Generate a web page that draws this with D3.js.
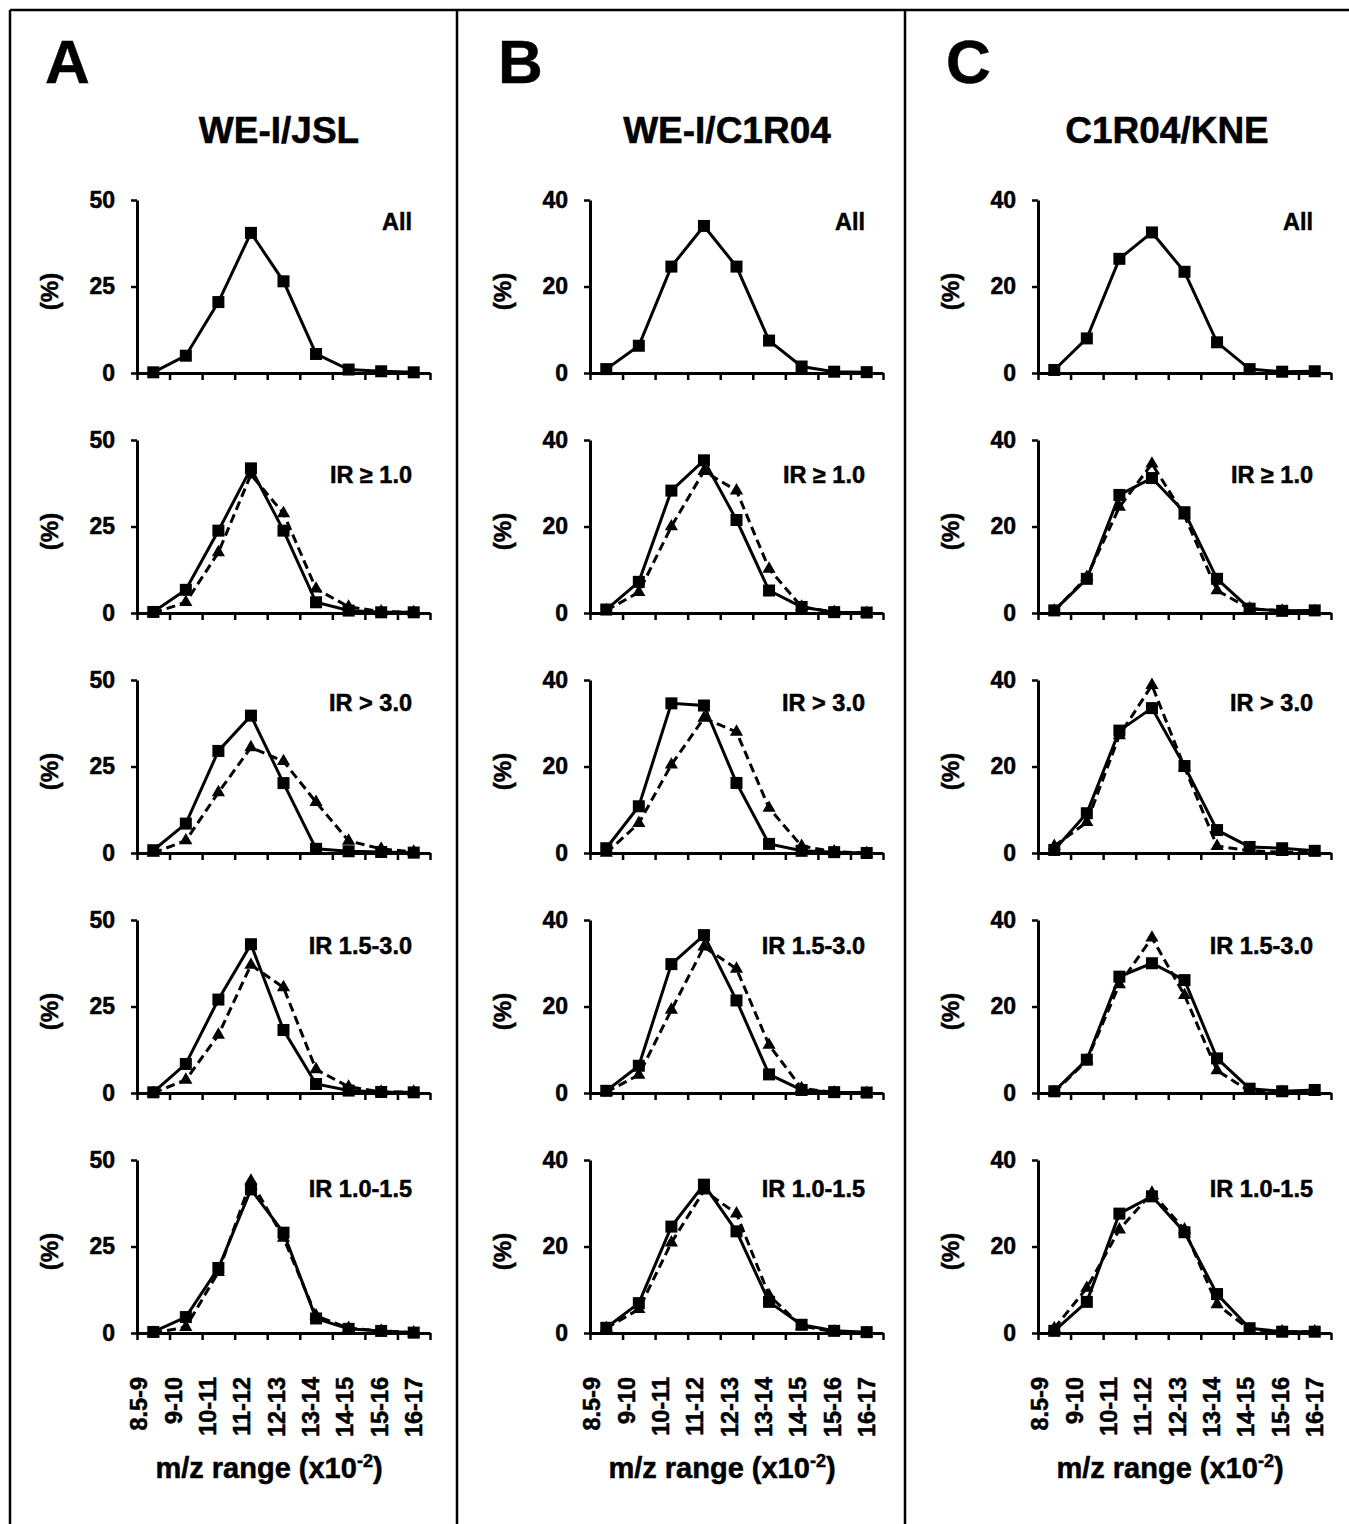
<!DOCTYPE html>
<html>
<head>
<meta charset="utf-8">
<script src="https://cdn.jsdelivr.net/npm/d3@7"></script>
<style>
  body { margin: 0; background: #fff; }
  svg { display: block; font-family: "Liberation Sans", Arial, sans-serif; font-weight: bold; }
  svg text { stroke: #000; stroke-width: 0.5px; fill: #000; }
</style>
</head>
<body>
<div id="chart"></div>
<script>
// categories on the x axis (m/z range x10^-2)
const categories = ["8.5-9", "9-10", "10-11", "11-12", "12-13", "13-14", "14-15", "15-16", "16-17"];
const panelLetters = ["A", "B", "C"];
const panelTitles = ["WE-I/JSL", "WE-I/C1R04", "C1R04/KNE"];
const rowLabels = ["All", "IR \u2265 1.0", "IR > 3.0", "IR 1.5-3.0", "IR 1.0-1.5"];
const yMax = [50, 40, 40];
const yTicks = [[0, 25, 50], [0, 20, 40], [0, 20, 40]];

// solid line, square markers (one row per subplot)
const jslSquares = [
  [0.2, 5.0, 20.5, 40.5, 26.5, 5.5, 1.0, 0.5, 0.2],
  [0.3, 6.7, 23.8, 41.8, 23.8, 3.1, 0.7, 0.2, 0.2],
  [0.8, 8.5, 29.5, 39.7, 20.2, 1.2, 0.5, 0.3, 0.1],
  [0.2, 8.4, 27.0, 43.0, 18.2, 2.6, 0.7, 0.3, 0.2],
  [0.3, 4.6, 18.8, 41.5, 29.0, 4.2, 1.2, 0.6, 0.1]
];
const c1r04Squares = [
  [0.9, 6.3, 24.6, 34.0, 24.6, 7.5, 1.5, 0.3, 0.2],
  [0.8, 7.2, 28.3, 35.3, 21.5, 5.2, 1.4, 0.2, 0.1],
  [1.1, 10.8, 34.6, 34.1, 16.2, 2.1, 0.5, 0.2, 0.0],
  [0.5, 6.3, 29.8, 36.5, 21.4, 4.3, 0.7, 0.2, 0.1],
  [1.2, 6.9, 24.6, 34.3, 23.5, 7.2, 1.9, 0.5, 0.2]
];
const kneSquares = [
  [0.7, 8.0, 26.4, 32.5, 23.4, 7.1, 0.9, 0.3, 0.4],
  [0.6, 7.9, 27.3, 31.2, 23.3, 7.9, 1.0, 0.5, 0.6],
  [0.7, 9.2, 28.3, 33.5, 20.1, 5.3, 1.4, 1.1, 0.5],
  [0.4, 7.7, 26.9, 30.0, 26.1, 8.0, 1.0, 0.4, 0.7],
  [0.5, 7.2, 27.6, 31.6, 23.3, 9.0, 1.1, 0.3, 0.3]
];

// dashed line, triangle markers ("All" row has none)
const jslTriangles = [
  null,
  [0.0, 3.1, 17.5, 40.0, 28.8, 7.0, 1.8, 0.4, 0.2],
  [0.0, 3.6, 17.5, 30.5, 26.5, 14.7, 3.5, 1.2, 0.3],
  [0.0, 3.8, 16.8, 37.0, 30.5, 6.8, 1.8, 0.3, 0.3],
  [0.0, 1.7, 17.6, 44.0, 27.5, 5.0, 1.4, 0.6, 0.1]
];
const c1r04Triangles = [
  null,
  [0.6, 4.8, 20.0, 32.8, 28.3, 10.2, 1.4, 0.2, 0.0],
  [0.0, 6.9, 20.4, 31.2, 28.0, 10.4, 1.6, 0.3, 0.0],
  [0.2, 4.2, 19.2, 33.8, 28.7, 11.1, 1.1, 0.1, 0.0],
  [1.1, 5.5, 20.9, 32.9, 27.6, 8.7, 1.6, 0.3, 0.0]
];
const kneTriangles = [
  null,
  [0.5, 8.3, 24.5, 34.5, 22.5, 5.2, 1.0, 0.5, 0.4],
  [1.6, 7.1, 27.2, 38.8, 19.8, 1.6, 0.5, 0.2, 0.2],
  [0.2, 7.5, 25.1, 35.9, 22.6, 5.2, 0.4, 0.2, 0.3],
  [1.1, 10.4, 23.9, 32.4, 23.9, 6.6, 0.8, 0.3, 0.3]
];

const squaresByPanel = [jslSquares, c1r04Squares, kneSquares];
const trianglesByPanel = [jslTriangles, c1r04Triangles, kneTriangles];

// layout
const W = 1349, H = 1524;
const colX = [137, 590, 1038];       // y axis position of each column
const plotW = 293, plotH = 173;
const rowTop = [200, 440, 680, 920, 1160];
const labelDy = [30, 43, 31, 34, 37]; // baseline of the subplot label below plot top
const titleDx = [142, 137, 129];
const dividers = [457, 905];

const svg = d3.select("#chart").append("svg")
  .attr("width", W)
  .attr("height", H);

svg.append("rect").attr("width", W).attr("height", H).attr("fill", "#fff");

// outer frame and column dividers
const frame = svg.append("g").attr("stroke", "#000").attr("stroke-width", 2.5).attr("fill", "none");
frame.append("line").attr("x1", 10).attr("y1", 10).attr("x2", W + 5).attr("y2", 10);
[10].concat(dividers).forEach(function (x) {
  frame.append("line").attr("x1", x).attr("y1", 10).attr("x2", x).attr("y2", H + 5);
});

const line = d3.line();

panelTitles.forEach(function (title, p) {
  const x0 = colX[p];
  const g = svg.append("g");

  g.append("text")
    .attr("x", x0 - 92).attr("y", 83)
    .style("font-size", "62px")
    .text(panelLetters[p]);

  g.append("text")
    .attr("x", x0 + titleDx[p]).attr("y", 143)
    .attr("text-anchor", "middle")
    .style("font-size", "37px")
    .text(title);

  const x = d3.scaleBand().domain(categories).range([x0, x0 + plotW]).padding(0);
  const xTick = d3.scaleLinear().domain([0, categories.length]).range([x0, x0 + plotW]);
  const cx = function (c) { return x(c) + x.bandwidth() / 2; };

  rowLabels.forEach(function (label, r) {
    const top = rowTop[r], bottom = top + plotH;
    const y = d3.scaleLinear().domain([0, yMax[p]]).range([bottom, top]);
    const sub = g.append("g");

    // y axis
    const ya = sub.append("g")
      .attr("transform", "translate(" + x0 + ",0)")
      .call(d3.axisLeft(y).tickValues(yTicks[p]).tickSize(6).tickSizeOuter(0).tickPadding(16));
    // x axis with ticks between categories
    const xa = sub.append("g")
      .attr("transform", "translate(0," + bottom + ")")
      .call(d3.axisBottom(xTick).tickValues(d3.range(categories.length + 1)).tickFormat("").tickSize(7).tickSizeOuter(0));
    [ya, xa].forEach(function (a) {
      a.select(".domain").attr("stroke-width", 3).attr("stroke", "#000");
      a.selectAll(".tick line").attr("stroke-width", 2.5).attr("stroke", "#000");
      a.selectAll("text")
        .style("font-size", "23px")
        .style("font-weight", "bold")
        .style("font-family", "'Liberation Sans', Arial, sans-serif")
        .attr("fill", "#000");
    });

    // y axis title
    sub.append("text")
      .attr("transform", "translate(" + (x0 - 87) + "," + (top + plotH / 2 + 5) + ") rotate(-90)")
      .attr("text-anchor", "middle")
      .attr("dy", "0.35em")
      .style("font-size", "24px")
      .text("(%)");

    // subplot label
    sub.append("text")
      .attr("x", x0 + plotW - 18).attr("y", top + labelDy[r])
      .attr("text-anchor", "end")
      .style("font-size", "23.5px")
      .text(label);

    const sq = squaresByPanel[p][r];
    const tri = trianglesByPanel[p][r];

    line.x(function (d, i) { return cx(categories[i]); })
        .y(function (d) { return y(d); });

    if (tri) {
      sub.append("path")
        .attr("d", line(tri))
        .attr("fill", "none")
        .attr("stroke", "#000")
        .attr("stroke-width", 3)
        .attr("stroke-dasharray", "9,5");
      sub.selectAll(".tri").data(tri).join("path")
        .attr("class", "tri")
        .attr("transform", function (d, i) { return "translate(" + cx(categories[i]) + "," + y(d) + ")"; })
        .attr("d", d3.symbol(d3.symbolTriangle, 75))
        .attr("fill", "#000");
    }

    sub.append("path")
      .attr("d", line(sq))
      .attr("fill", "none")
      .attr("stroke", "#000")
      .attr("stroke-width", 3);
    sub.selectAll(".sq").data(sq).join("rect")
      .attr("class", "sq")
      .attr("x", function (d, i) { return cx(categories[i]) - 6; })
      .attr("y", function (d) { return y(d) - 6; })
      .attr("width", 12)
      .attr("height", 12)
      .attr("fill", "#000");

    // category labels under the bottom row
    if (r === rowLabels.length - 1) {
      const xl = d3.scalePoint().domain(categories)
        .range([x0 + 2, cx(categories[categories.length - 1])]);
      sub.selectAll(".cat").data(categories).join("text")
        .attr("class", "cat")
        .attr("transform", function (d) { return "translate(" + xl(d) + "," + (bottom + 44) + ") rotate(-90)"; })
        .attr("text-anchor", "end")
        .attr("dy", "0.35em")
        .style("font-size", "23.5px")
        .text(function (d) { return d; });

      const t = sub.append("text")
        .attr("x", x0 + 132).attr("y", 1478)
        .attr("text-anchor", "middle")
        .style("font-size", "29px");
      t.append("tspan").text("m/z range (x10");
      t.append("tspan").attr("dy", -11).style("font-size", "18px").text("-2");
      t.append("tspan").attr("dy", 11).text(")");
    }
  });
});
</script>
</body>
</html>
